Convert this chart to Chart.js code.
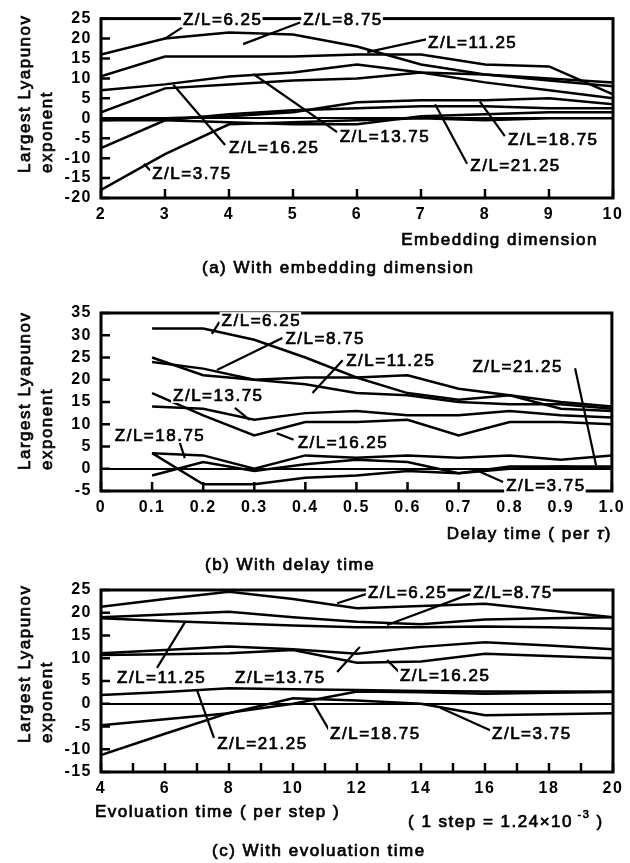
<!DOCTYPE html>
<html>
<head>
<meta charset="utf-8">
<script src="https://cdn.jsdelivr.net/npm/chart.js@4.4.1/dist/chart.umd.min.js"></script>
<style>
  html, body { margin: 0; padding: 0; background: #fff; }
  #wrap { position: relative; width: 630px; height: 863px; }
  canvas { position: absolute; left: 0; }
</style>
</head>
<body>
<div id="wrap">
  <canvas id="chartEmb" width="630" height="285" style="top:0px"></canvas>
  <canvas id="chartDelay" width="630" height="300" style="top:280px"></canvas>
  <canvas id="chartEvo" width="630" height="293" style="top:570px"></canvas>
</div>
<script>
// (a) embedding dimension
const embDims = [2, 3, 4, 5, 6, 7, 8, 9, 10];
const emb375  = [-18, -9, -1.5, -1, -0.5, 0, -0.5, 0, 0];
const emb625  = [16, 20, 21.5, 21, 18, 13.5, 11, 9.5, 8];
const emb875  = [-0.5, -0.5, -1, -1.5, -1.5, 0.5, 1, 1.5, 1.5];
const emb1125 = [10.5, 15.5, 15.5, 15.5, 16, 16, 13.5, 13, 6];
const emb1375 = [7, 8.5, 10.5, 11.5, 13.5, 11.5, 11, 10, 9];
const emb1625 = [1.5, 7.5, 8.5, 9.5, 10, 11.5, 9, 7, 5];
const emb1875 = [-0.5, 0, 0.5, 1.5, 4, 4.5, 4.5, 5, 3.5];
const emb2125 = [-7.5, -0.5, 1, 2, 2.5, 3, 3, 2.5, 2.5];

// (b) delay time
const delayTimes = [0.1, 0.2, 0.3, 0.4, 0.5, 0.6, 0.7, 0.8, 0.9, 1.0];
const del375  = [-1.5, 1.5, -0.5, 1, 2, 1.5, -1, 0, 0.5, 0];
const del625  = [31.5, 31.5, 29, 25, 20.5, 21, 18, 16.5, 15, 14];
const del875  = [25, 21, 20, 20.5, 20.5, 17, 15.5, 16.5, 13.5, 13];
const del1125 = [24, 22.5, 20, 19, 17, 16.5, 15, 14.5, 14.5, 13.5];
const del1375 = [14, 13.5, 11, 12.5, 13, 12, 12, 13, 12, 11.5];
const del1625 = [17, 12, 7.5, 10.5, 10.5, 11, 7.5, 10.5, 10.5, 10];
const del1875 = [3.5, -3.5, -3.5, -2, -1.5, -0.5, -1, 0.5, 0.5, 0.5];
const del2125 = [3.5, 3, 0, 3, 2.5, 3, 2.5, 3, 2, 3];

// (c) evolution time
const evoSteps = [4, 6, 8, 10, 12, 14, 16, 18, 20];
const evo375  = [-4.7, -3.4, -2.1, 1.2, 0.7, 0, -2.5, -2.3, -2.1];
const evo625  = [21.3, 23, 24.6, 23, 21, 21.5, 22, 20.5, 19];
const evo875  = [19, 19.6, 20.2, 19, 18, 17.5, 18.5, 18.8, 19];
const evo1125 = [18.8, 18.2, 17.7, 17.2, 16.8, 16.8, 17, 16.8, 16.5];
const evo1375 = [11.1, 11.8, 12.6, 12, 11, 12.5, 13.5, 12.8, 12];
const evo1625 = [10.7, 10.9, 11.1, 11.8, 9, 9.3, 11, 10.5, 10];
const evo1875 = [1.9, 2.6, 3.4, 3.2, 3, 2.8, 2.7, 2.7, 2.7];
const evo2125 = [-11.3, -6.6, -2, 0, 2.7, 2.5, 2.2, 2.4, 2.6];

const zlNames = ['3.75', '6.25', '8.75', '11.25', '13.75', '16.25', '18.75', '21.25'];
const embSeries = [emb375, emb625, emb875, emb1125, emb1375, emb1625, emb1875, emb2125];
const delSeries = [del375, del625, del875, del1125, del1375, del1625, del1875, del2125];
const evoSeries = [evo375, evo625, evo875, evo1125, evo1375, evo1625, evo1875, evo2125];

// callout labels: text start point and leader line, in data units
const embLabels = [
  { text: 'Z/L=6.25',  at: [3.28, 24.75],  lead: [3.27, 22.8, 2.98, 19.8] },
  { text: 'Z/L=8.75',  at: [5.16, 24.75],  lead: [5.11, 24.0, 4.22, 18.6] },
  { text: 'Z/L=11.25', at: [7.11, 19.05],  lead: [7.08, 19.8, 6.16, 16.6] },
  { text: 'Z/L=13.75', at: [5.73, -4.45],  lead: [5.69, -3.5, 4.38, 11.1] },
  { text: 'Z/L=16.25', at: [4.0, -7.2],    lead: [3.94, -6.7, 3.13, 8.4] },
  { text: 'Z/L=3.75',  at: [2.8, -13.9],   lead: [2.77, -13.1, 2.67, -11.4] },
  { text: 'Z/L=18.75', at: [8.36, -5.2],   lead: [8.31, -4.5, 7.92, 4.2] },
  { text: 'Z/L=21.25', at: [7.77, -11.9],  lead: [7.72, -11.4, 7.22, 3.5] }
];
const delLabels = [
  { text: 'Z/L=6.25',  at: [0.236, 33.4], lead: [0.232, 33.0, 0.217, 30.3] },
  { text: 'Z/L=8.75',  at: [0.361, 29.4], lead: [0.355, 29.4, 0.227, 22.2] },
  { text: 'Z/L=11.25', at: [0.48, 24.4],  lead: [0.473, 24.4, 0.414, 17.0] },
  { text: 'Z/L=21.25', at: [0.727, 23.1], lead: [0.928, 22.6, 0.969, 0.8] },
  { text: 'Z/L=13.75', at: [0.141, 16.6], lead: [0.262, 13.7, 0.291, 11.0] },
  { text: 'Z/L=16.25', at: [0.385, 6.0],  lead: [0.377, 6.5, 0.344, 8.0] },
  { text: 'Z/L=18.75', at: [0.027, 7.6],  lead: [0.154, 6.0, 0.164, 2.4] },
  { text: 'Z/L=3.75',  at: [0.793, -3.65], lead: [0.787, -3.0, 0.734, -0.3] }
];
const evoLabels = [
  { text: 'Z/L=6.25',  at: [12.34, 24.56], lead: [12.28, 24.1, 11.38, 22.1] },
  { text: 'Z/L=8.75',  at: [15.63, 24.56], lead: [15.53, 24.1, 12.94, 17.3] },
  { text: 'Z/L=11.25', at: [4.5, 5.9],     lead: [5.75, 7.9, 6.63, 18.0] },
  { text: 'Z/L=13.75', at: [8.19, 5.9],    lead: [11.38, 7.0, 12.09, 12.5] },
  { text: 'Z/L=16.25', at: [13.34, 6.3],   lead: [13.31, 7.0, 12.94, 9.6] },
  { text: 'Z/L=18.75', at: [11.16, -6.4],  lead: [11.13, -5.8, 10.63, 0.2] },
  { text: 'Z/L=21.25', at: [7.63, -8.6],   lead: [7.53, -7.5, 7.0, 3.0] },
  { text: 'Z/L=3.75',  at: [16.22, -6.4],  lead: [16.16, -5.8, 14.6, -0.9] }
];

const FONT = "'Liberation Sans', Arial, Helvetica, sans-serif";
Chart.defaults.font.family = FONT;
Chart.defaults.color = '#000';

// regular face with a thin outline, to get the heavy look of the scanned print
function heavyText(ctx, str, x, y) {
  ctx.fillText(str, x, y);
  ctx.strokeText(str, x, y);
}

const paperDeco = {
  id: 'paperDeco',
  beforeDraw(chart) {
    chart.ctx.letterSpacing = '1.5px';
  },
  afterDatasetsDraw(chart, args, opts) {
    const { ctx, chartArea: a, scales: { x, y } } = chart;
    ctx.save();
    ctx.strokeStyle = '#000';
    ctx.lineCap = 'butt';

    // inward tick marks
    ctx.lineWidth = 2.5;
    ctx.beginPath();
    y.ticks.forEach(t => {
      const py = y.getPixelForValue(t.value);
      ctx.moveTo(a.left, py); ctx.lineTo(a.left + 9, py);
    });
    x.ticks.forEach(t => {
      const px = x.getPixelForValue(t.value);
      ctx.moveTo(px, a.bottom); ctx.lineTo(px, a.bottom - 9);
    });
    ctx.stroke();

    // frame
    ctx.lineWidth = 3;
    ctx.strokeRect(a.left, a.top, a.width, a.height);

    // callouts
    ctx.font = '17px ' + FONT;
    ctx.letterSpacing = '1.5px';
    ctx.textBaseline = 'middle';
    ctx.textAlign = 'left';
    ctx.lineWidth = 2.2;
    opts.labels.forEach(l => {
      ctx.beginPath();
      ctx.moveTo(x.getPixelForValue(l.lead[0]), y.getPixelForValue(l.lead[1]));
      ctx.lineTo(x.getPixelForValue(l.lead[2]), y.getPixelForValue(l.lead[3]));
      ctx.stroke();
    });
    ctx.lineWidth = 0.7;
    opts.labels.forEach(l => {
      const tx = x.getPixelForValue(l.at[0]);
      const ty = y.getPixelForValue(l.at[1]);
      const w = ctx.measureText(l.text).width;
      ctx.fillStyle = '#fff';
      ctx.fillRect(tx - 2, ty - 8, w + 2, 16);
      ctx.fillStyle = '#000';
      heavyText(ctx, l.text, tx, ty + 1);
    });

    // y title, two rotated lines starting at the bottom
    const off = opts.offset;
    ctx.save();
    ctx.translate(0, opts.yTitleBottom - off);
    ctx.rotate(-Math.PI / 2);
    heavyText(ctx, 'Largest Lyapunov', 0, 25);
    heavyText(ctx, 'exponent', 0, 47);
    ctx.restore();

    // axis titles and caption
    opts.texts.forEach(t => {
      let cx = t.x;
      if (t.align === 'right') {
        let total = 0;
        t.parts.forEach(p => { ctx.font = (p.style || '') + ' ' + p.size + 'px ' + FONT; total += ctx.measureText(p.t).width; });
        cx -= total;
      }
      t.parts.forEach(p => {
        ctx.font = (p.style || '') + ' ' + p.size + 'px ' + FONT;
        heavyText(ctx, p.t, cx, t.y - off + (p.dy || 0));
        cx += ctx.measureText(p.t).width;
      });
    });
    ctx.restore();
  }
};

function buildChart(id, offset, height, area, xs, seriesList, xOpts, yOpts, deco) {
  const datasets = seriesList.map((vals, i) => ({
    label: 'Z/L=' + zlNames[i],
    data: xs.map((v, j) => ({ x: v, y: vals[j] })),
    borderColor: '#000',
    borderWidth: 2.5,
    pointRadius: 0,
    fill: false,
    tension: 0
  }));
  return new Chart(document.getElementById(id), {
    type: 'line',
    data: { datasets },
    plugins: [paperDeco],
    options: {
      responsive: false,
      animation: false,
      devicePixelRatio: 1,
      layout: { padding: { top: area.top - offset, left: 0, right: 17, bottom: height - (area.bottom - offset) - 30 } },
      plugins: {
        legend: { display: false },
        tooltip: { enabled: false },
        paperDeco: Object.assign({ offset }, deco)
      },
      scales: {
        x: Object.assign({
          type: 'linear',
          afterFit: s => { s.height = 30; },
          grid: { display: false, drawTicks: false },
          border: { display: false }
        }, xOpts),
        y: Object.assign({
          type: 'linear',
          afterFit: s => { s.width = 101; },
          grid: {
            drawTicks: false,
            lineWidth: 2,
            color: c => (c.tick && c.tick.value === 0) ? '#000' : 'rgba(0,0,0,0)'
          },
          border: { display: false }
        }, yOpts)
      }
    }
  });
}

const tickFont = { size: 16, weight: 'bold' };
const yTicks = { stepSize: 5, font: tickFont, padding: 9, autoSkip: false };

buildChart('chartEmb', 0, 285, { top: 16, bottom: 198 }, embDims, embSeries,
  { min: 2, max: 10, ticks: { stepSize: 1, font: tickFont, padding: 7, maxRotation: 0, autoSkip: false } },
  { min: -20, max: 25, ticks: yTicks },
  {
    labels: embLabels,
    yTitleBottom: 173,
    texts: [
      { x: 598, y: 240, align: 'right', parts: [{ t: 'Embedding dimension', size: 17 }] },
      { x: 202, y: 268, parts: [{ t: '(a) With embedding dimension', size: 17 }] }
    ]
  });

buildChart('chartDelay', 280, 300, { top: 313, bottom: 491 }, delayTimes, delSeries,
  { min: 0, max: 1, ticks: { stepSize: 0.1, font: tickFont, padding: 7, maxRotation: 0, autoSkip: false,
      callback: v => (Math.abs(v) < 1e-9 ? '0' : Number(v).toFixed(1)) } },
  { min: -5, max: 35, ticks: yTicks },
  {
    labels: delLabels,
    yTitleBottom: 470,
    texts: [
      { x: 612, y: 534, align: 'right', parts: [{ t: 'Delay time ( per ', size: 17 }, { t: '\u03C4', size: 17, style: 'italic' }, { t: ')', size: 17 }] },
      { x: 205, y: 565, parts: [{ t: '(b) With delay time', size: 17 }] }
    ]
  });

buildChart('chartEvo', 570, 293, { top: 590, bottom: 772 }, evoSteps, evoSeries,
  { min: 4, max: 20, ticks: { stepSize: 1, font: tickFont, padding: 7, maxRotation: 0, autoSkip: false,
      callback: v => (v % 2 === 0 ? v : '') } },
  { min: -15, max: 25, ticks: yTicks },
  {
    labels: evoLabels,
    yTitleBottom: 743,
    texts: [
      { x: 95, y: 812, parts: [{ t: 'Evoluation time ( per step )', size: 17 }] },
      { x: 408, y: 822, parts: [{ t: '( 1 step = 1.24\u00D710', size: 17 }, { t: ' -3', size: 11, dy: -7 }, { t: ' )', size: 17 }] },
      { x: 212, y: 851, parts: [{ t: '(c) With evoluation time', size: 17 }] }
    ]
  });
</script>
</body>
</html>
